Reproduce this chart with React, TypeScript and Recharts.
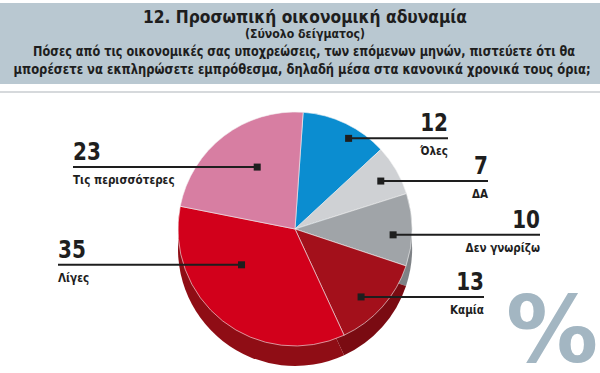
import React from 'react';
import { PieChart, Pie, Cell } from 'recharts';

const categories = ['Όλες', 'ΔΑ', 'Δεν γνωρίζω', 'Καμία', 'Λίγες', 'Τις περισσότερες'];
const shares = [12, 7, 10, 13, 35, 23];
const topColors = ['#0b8dd0', '#cfd1d4', '#a0a4a8', '#a3101b', '#d2001b', '#d77ea2'];
const sideColors = ['#07679a', '#a9acaf', '#7e8286', '#7a0b12', '#8f0d15', '#a85a7a'];

const title = '12. Προσωπική οικονομική αδυναμία';
const subtitle = '(Σύνολο δείγματος)';
const question = [
  'Πόσες από τις οικονομικές σας υποχρεώσεις, των επόμενων μηνών, πιστεύετε ότι θα',
  'μπορέσετε να εκπληρώσετε εμπρόθεσμα, δηλαδή μέσα στα κανονικά χρονικά τους όρια;',
];

const data = categories.map((name, i) => ({ name, value: shares[i] }));

// callout layout: angle nudge (deg), marker depth (share of radius), line reach from centre (px)
const callouts = [
  { nudge: -5, depth: 0.9, reach: 153 },
  { nudge: -1, depth: 0.84, reach: 193 },
  { nudge: -3, depth: 0.84, reach: 245 },
  { nudge: -4, depth: 0.81, reach: 189 },
  { nudge: -18, depth: 0.55, reach: 237 },
  { nudge: -6, depth: 0.62, reach: 222 },
];
const font = '"DejaVu Sans", sans-serif';
const ink = '#1e1e1e';
const RAD = Math.PI / 180;

const Narrow = ({ x, y, anchor, size, children }: any) => (
  <text
    transform={`translate(${x},${y}) scale(0.8,1)`}
    textAnchor={anchor}
    fontFamily={font}
    fontWeight="bold"
    fontSize={size}
    fill={ink}
  >
    {children}
  </text>
);

const Callout = (props: any) => {
  const { cx, cy, midAngle, outerRadius, index, value, name } = props;
  const c = callouts[index];
  const a = (midAngle + c.nudge) * RAD;
  const r = outerRadius * c.depth;
  const mx = cx + r * Math.cos(a);
  const my = cy - r * Math.sin(a);
  const right = mx > cx;
  const ex = right ? cx + c.reach : cx - c.reach;
  const anchor = right ? 'end' : 'start';
  return (
    <g>
      <line x1={mx} y1={my} x2={ex} y2={my} stroke={ink} strokeWidth={2} />
      <rect x={mx - 3.5} y={my - 3.5} width={7} height={7} fill={ink} />
      <Narrow x={ex} y={my - 7} anchor={anchor} size={25}>{value}</Narrow>
      <Narrow x={ex} y={my + 17} anchor={anchor} size={13}>{name}</Narrow>
    </g>
  );
};

export default function App() {
  return (
    <div style={{ position: 'absolute', left: 0, top: 0, width: 600, height: 373, background: '#fff' }}>
      <svg width={600} height={373} style={{ position: 'absolute', left: 0, top: 0 }}>
        <rect x={0} y={3} width={600} height={81} fill="#b9c8d1" />
        <line x1={0} y1={92} x2={600} y2={92} stroke="#c9cdd0" strokeWidth={1.5} />
        <text x={305} y={23} textAnchor="middle" fontFamily={font} fontWeight="bold" fontSize={18}
          fill={ink} textLength={324} lengthAdjust="spacingAndGlyphs">
          {title}
        </text>
        <text x={305} y={38} textAnchor="middle" fontFamily={font} fontWeight="bold" fontSize={12}
          fill={ink} textLength={120} lengthAdjust="spacingAndGlyphs">
          {subtitle}
        </text>
        {question.map((q, i) => (
          <text key={i} x={i ? 302 : 304} y={56 + i * 18} textAnchor="middle" fontFamily={font} fontWeight="bold"
            fontSize={14} fill={ink} textLength={i ? 577 : 542} lengthAdjust="spacingAndGlyphs">
            {q}
          </text>
        ))}
        <text x={552} y={362} textAnchor="middle" fontFamily={font} fontWeight="bold" fontSize={92} fill="#a3b6c2">
          %
        </text>
      </svg>
      <div style={{ position: 'absolute', left: 0, top: 0 }}>
        <PieChart width={600} height={373}>
          <Pie
            data={data}
            dataKey="value"
            cx={290}
            cy={244}
            outerRadius={117}
            startAngle={86}
            endAngle={-274}
            stroke="none"
            isAnimationActive={false}
          >
            {data.map((d, i) => (
              <Cell key={d.name} fill={sideColors[i]} />
            ))}
          </Pie>
          <Pie
            data={data}
            dataKey="value"
            cx={290}
            cy={224}
            outerRadius={117}
            startAngle={86}
            endAngle={-274}
            stroke="#f4f4f4"
            strokeWidth={0.6}
            label={Callout}
            labelLine={false}
            isAnimationActive={false}
          >
            {data.map((d, i) => (
              <Cell key={d.name} fill={topColors[i]} />
            ))}
          </Pie>
        </PieChart>
      </div>
    </div>
  );
}
